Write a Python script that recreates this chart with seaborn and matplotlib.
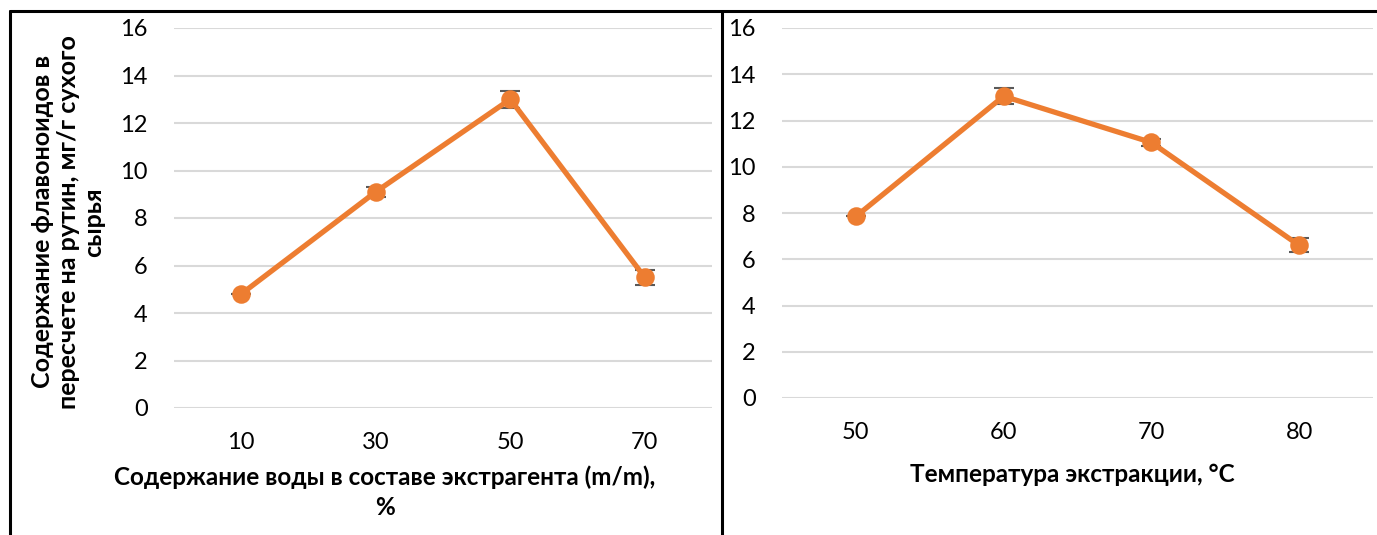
import matplotlib
matplotlib.use("Agg")
import matplotlib.pyplot as plt
import seaborn as sns
from matplotlib.lines import Line2D

sns.set_theme(style="white")
plt.rcParams['font.family'] = ['Lato', 'DejaVu Sans']

# Data
water = ["10", "30", "50", "70"]
water_vals = [4.8, 9.1, 13.0, 5.5]
water_err = [0.0, 0.2, 0.35, 0.3]

temp = ["50", "60", "70", "80"]
temp_vals = [7.85, 13.05, 11.05, 6.6]
temp_err = [0.0, 0.35, 0.15, 0.3]

yticks = [0, 2, 4, 6, 8, 10, 12, 14, 16]

ylabel = "Содержание флавоноидов в\nпересчете на рутин, мг/г сухого\nсырья"
xlabel_left = "Содержание воды в составе экстрагента (m/m),\n%"
xlabel_right = "Температура экстракции, °C"

ORANGE = "#ED7D31"
GRID = "#D9D9D9"
ERR = "#595959"

W, H = 1377, 535
fig = plt.figure(figsize=(W / 100, H / 100), dpi=100)

axL = fig.add_axes([174 / W, 1 - 408 / H, (712 - 174) / W, (408 - 28) / H])
axR = fig.add_axes([782 / W, 1 - 398 / H, (1373 - 782) / W, (398 - 28) / H])


def draw(ax, cats, vals, errs):
    ax.errorbar(range(len(cats)), vals, yerr=errs, fmt="none", ecolor=ERR,
                elinewidth=1.2, capsize=7.5, capthick=1.5, zorder=2)
    sns.pointplot(x=cats, y=vals, color=ORANGE, markers="o", ax=ax,
                  linewidth=3.8, markersize=10.5, zorder=3)
    ax.set_xlim(-0.5, len(cats) - 0.5)
    ax.set_ylim(0, 16)
    ax.set_yticks(yticks)
    ax.grid(axis="y", color=GRID, linewidth=1.5)
    ax.grid(axis="x", visible=False)
    ax.set_axisbelow(True)
    for s in ax.spines.values():
        s.set_visible(False)
    ax.tick_params(axis="both", length=0, labelsize=17, colors="black")
    ax.tick_params(axis="y", pad=19)
    ax.tick_params(axis="x", pad=17)


draw(axL, water, water_vals, water_err)
draw(axR, temp, temp_vals, temp_err)

axL.set_xlabel(xlabel_left, fontsize=17.5, fontweight="bold", color="black",
               linespacing=1.4)
axL.xaxis.set_label_coords(0.392, -0.15)
axL.xaxis.label.set_va("top")
axL.set_ylabel(ylabel, fontsize=18, fontweight="bold", color="black",
               linespacing=1.12)
axL.yaxis.set_label_coords(-0.197, 0.49)
axL.yaxis.label.set_va("center")

axR.set_xlabel(xlabel_right, fontsize=17.5, fontweight="bold", color="black")
axR.xaxis.set_label_coords(0.492, -0.176)
axR.xaxis.label.set_va("top")
axR.set_ylabel("")

# table-like borders
lw = 2.2
fig.add_artist(Line2D([10 / W, 1], [1 - 11 / H, 1 - 11 / H], color="black", lw=lw,
                      transform=fig.transFigure))
fig.add_artist(Line2D([10 / W, 10 / W], [0, 1 - 11 / H], color="black", lw=lw,
                      transform=fig.transFigure))
fig.add_artist(Line2D([722 / W, 722 / W], [0, 1 - 11 / H], color="black", lw=lw,
                      transform=fig.transFigure))

fig.savefig("out.png", dpi=100, facecolor="white")
